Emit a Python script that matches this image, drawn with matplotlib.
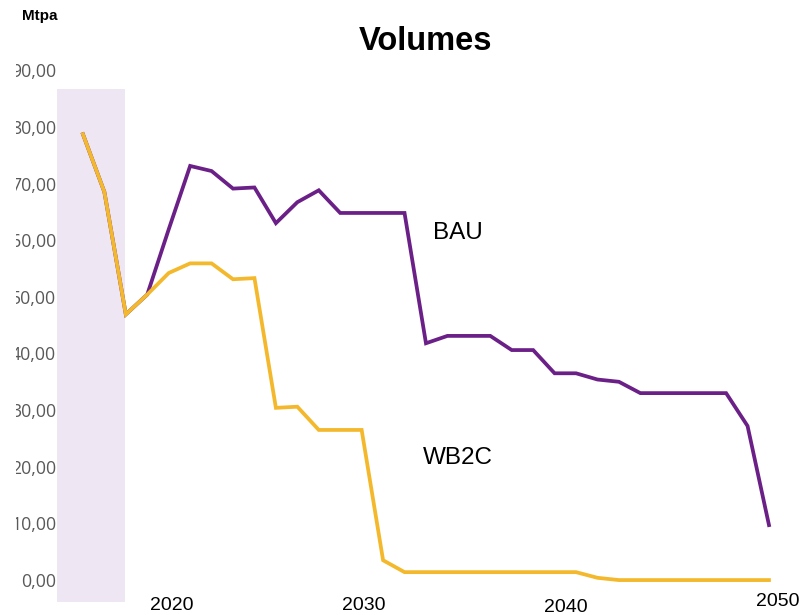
import matplotlib
matplotlib.use("Agg")
import matplotlib.pyplot as plt
import matplotlib.transforms as mtransforms
from matplotlib.patches import Rectangle

years = list(range(2018, 2051))
bau = [78.7, 68.5, 46.9, 50.4, 61.9, 73.1, 72.2, 69.1, 69.3, 63.0, 66.7, 68.8,
       64.8, 64.8, 64.8, 64.8, 41.8, 43.1, 43.1, 43.1, 40.6, 40.6, 36.5, 36.5,
       35.4, 35.0, 33.0, 33.0, 33.0, 33.0, 33.0, 27.2, 9.7]
wb2c = [78.7, 68.5, 46.9, 50.4, 54.2, 55.9, 55.9, 53.1, 53.3, 30.4, 30.6, 26.5,
        26.5, 26.5, 3.5, 1.4, 1.4, 1.4, 1.4, 1.4, 1.4, 1.4, 1.4, 1.4,
        0.4, 0.0, 0.0, 0.0, 0.0, 0.0, 0.0, 0.0, 0.0]
y_ticks = [0, 10, 20, 30, 40, 50, 60, 70, 80, 90]
y_tick_labels = ["0,00", "10,00", "20,00", "30,00", "40,00", "50,00",
                 "60,00", "70,00", "80,00", "90,00"]
x_labels = ["2020", "2030", "2040", "2050"]
x_label_pos = [2022.15, 2031.1, 2040.5, 2050.4]
x_label_fig_y = [10, 10, 8, 14]  # pixels from figure bottom
history_span = (2016.79, 2019.97)

W, H = 805, 615
fig = plt.figure(figsize=(W / 100, H / 100), dpi=100)
ax = fig.add_axes([57 / W, 10 / H, (790 - 57) / W, (555 - 10) / H])
ax.set_xlim(2016.79, 2050.98)
ax.set_ylim(-4.4, 91.8)

ax.fill_between(list(history_span), -3.9, 86.6, color="#EEE6F2", lw=0, zorder=0)

ax.plot(years, bau, color="#6B2087", lw=2.7, solid_joinstyle="miter", zorder=2)
ax.plot(years, wb2c, color="#F4B82C", lw=2.7, solid_joinstyle="miter", zorder=3)

for s in ax.spines.values():
    s.set_visible(False)
ax.set_xticks([])
ax.set_yticks(y_ticks)
ax.set_yticklabels(y_tick_labels, fontfamily="Open Sans", fontsize=12.8, color="#595959")
ax.tick_params(axis="y", length=0, pad=0.6)

# the tick label box is clipped on the left in the reference
fig.patches.append(Rectangle((0, 0), 16 / W, 1 - 40 / H, transform=fig.transFigure,
                             facecolor="white", edgecolor="none", zorder=10))

trans = mtransforms.blended_transform_factory(ax.transData, fig.dpi_scale_trans)
for lab, xp, fy in zip(x_labels, x_label_pos, x_label_fig_y):
    ax.text(xp, fy / 100, lab, transform=trans, ha="center", va="center",
            fontfamily="Liberation Sans", fontsize=14, color="#000000", clip_on=False)

fig.text(426 / W, 1 - 42 / H, "Volumes", ha="center", va="center",
         fontfamily="Liberation Sans", fontweight="bold", fontsize=23.5)
fig.text(22 / W, 1 - 16 / H, "Mtpa", ha="left", va="center",
         fontfamily="Liberation Sans", fontweight="bold", fontsize=11)

ax.text(2035.47, 61.2, "BAU", fontfamily="Liberation Sans", fontsize=17.5, ha="center", va="center")
ax.text(2035.47, 21.5, "WB2C", fontfamily="Liberation Sans", fontsize=17.5, ha="center", va="center")

fig.savefig("out.png", dpi=100)
